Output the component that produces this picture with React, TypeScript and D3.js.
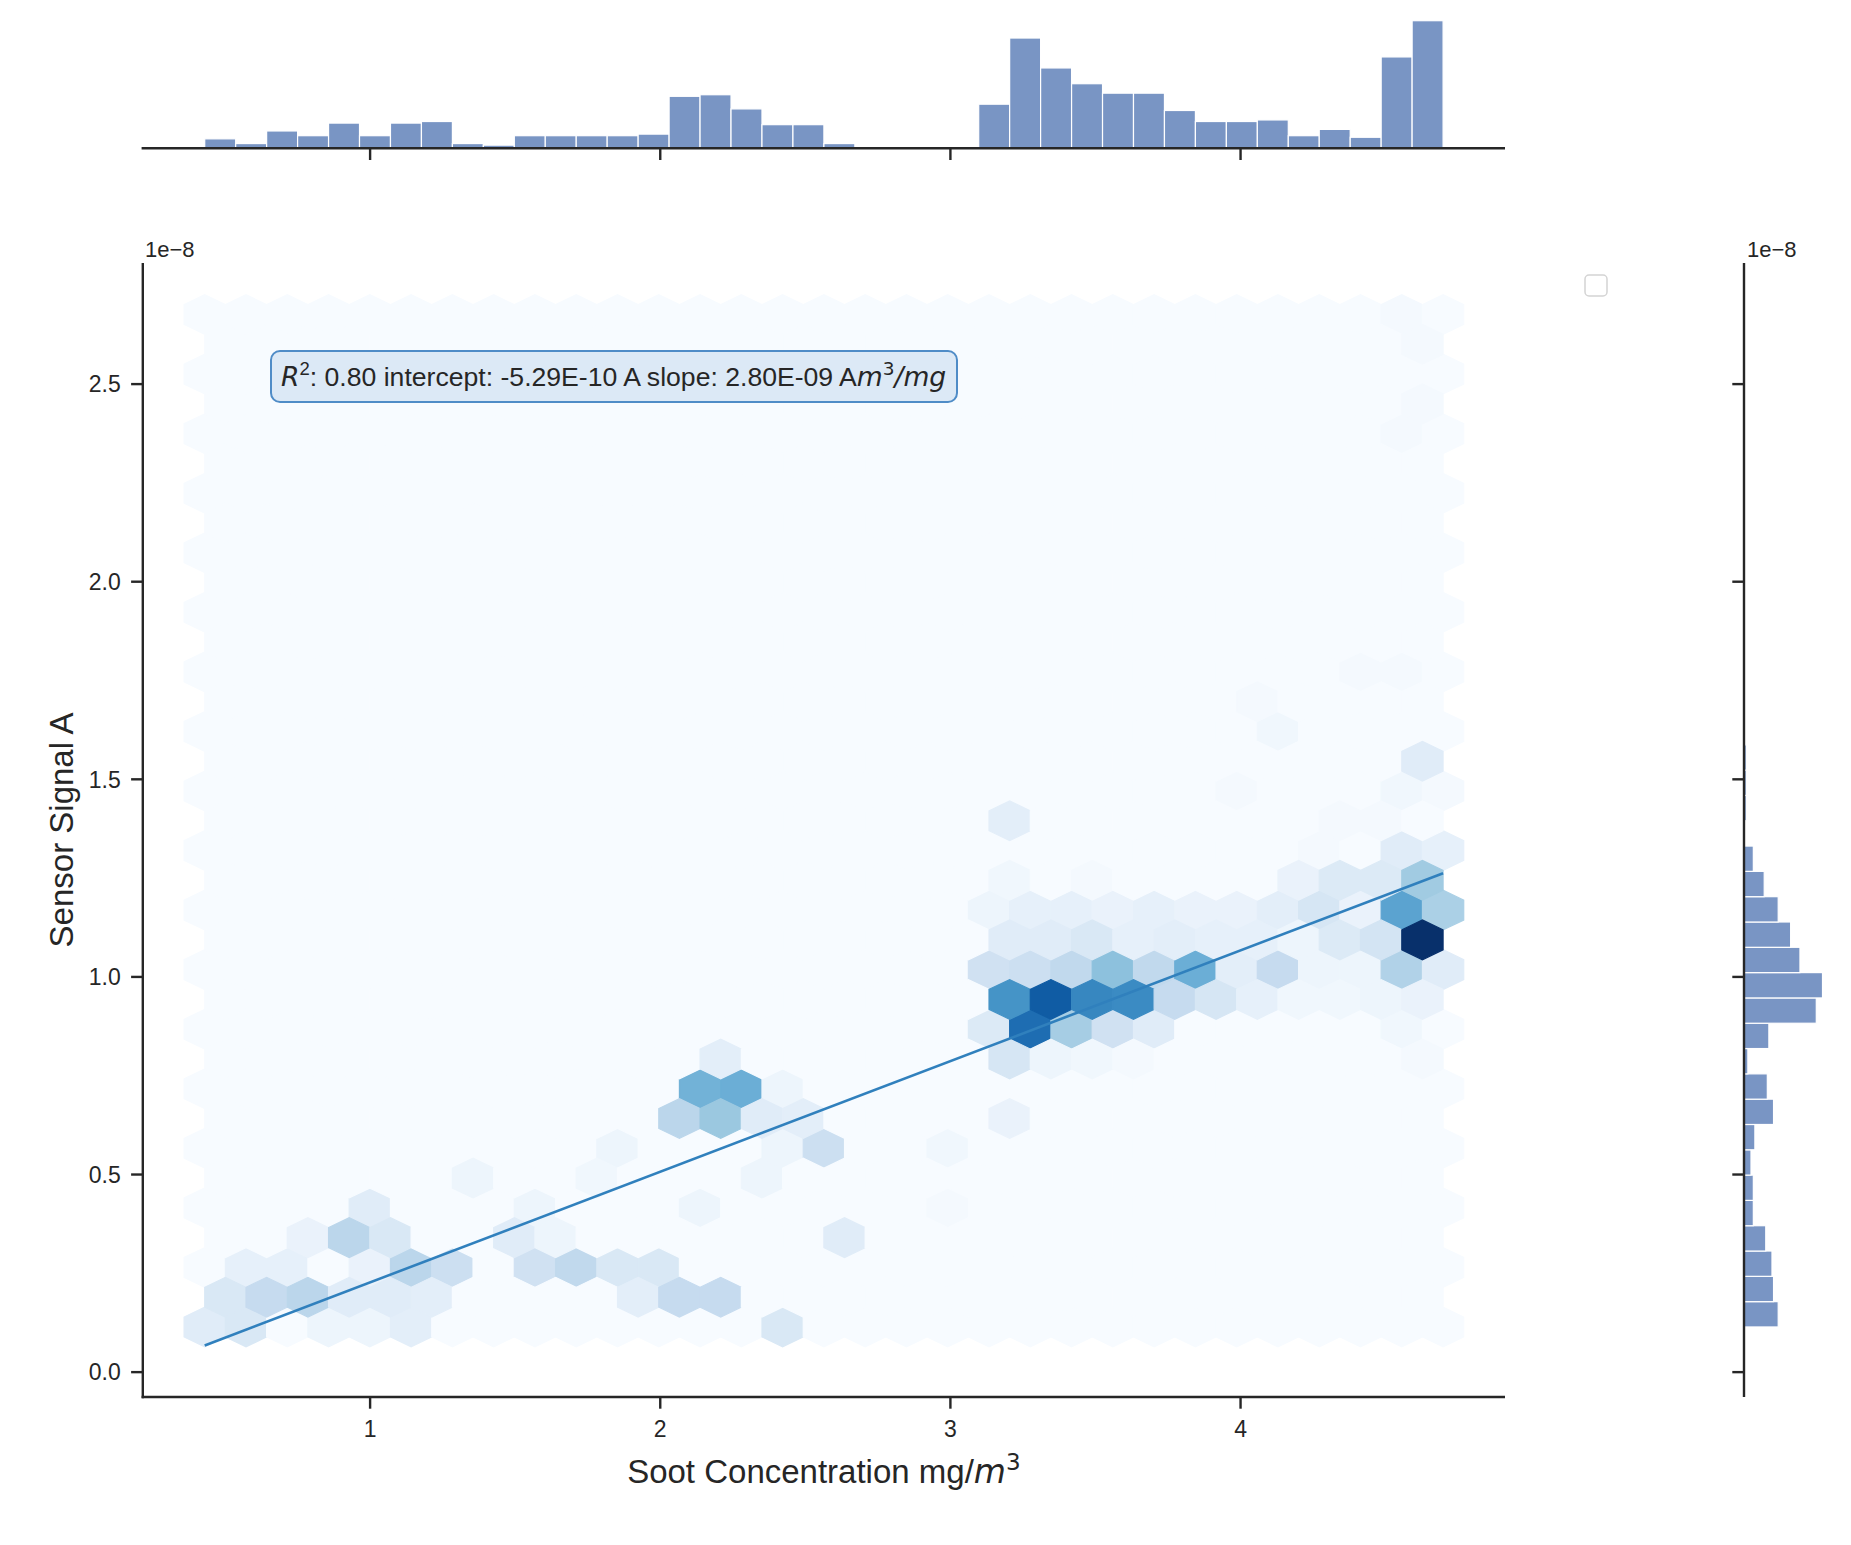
import React from 'react';
import * as d3 from 'd3';

// ---- data (values in units of the axes; signal in 1e-8 A) ----
const X_EXTENT = [0.43, 4.698]; // soot concentration data extent
const Y_EXTENT = [0.1143, 2.676]; // sensor signal data extent (1e-8 A)
const GRIDSIZE = 30;
const N_BINS = 40;
const X_TICKS = [1, 2, 3, 4];
const Y_TICKS = [0, 0.5, 1.0, 1.5, 2.0, 2.5];
const Y_TICK_LABELS = ['0.0', '0.5', '1.0', '1.5', '2.0', '2.5'];

const X_HIST = [6, 3, 11, 8, 16, 8, 16, 17, 3, 2, 8, 8, 8, 8, 9, 33, 34, 25, 15, 15, 3, 0, 0, 0, 0, 28, 70, 51, 41, 35, 35, 24, 17, 17, 18, 8, 12, 7, 58, 81];
const Y_HIST = [44, 38, 36, 28, 12, 12, 9, 14, 38, 30, 5, 32, 93, 101, 72, 60, 44, 26, 12, 0, 3, 3, 3, 1, 0, 0, 0, 0, 0, 0, 0, 0, 0, 0, 0, 0, 0, 1, 0, 1];

// [half-column, half-row, count] of hexagon cells (both hexbin lattices)
const HEX_CELLS: [number, number, number][] = [
  // right cluster
  [59, 13, 60], [58, 14, 33], [60, 14, 20], [59, 15, 22], [58, 12, 19], [57, 13, 11], [60, 12, 7],
  [59, 11, 4], [57, 15, 8], [58, 16, 7], [60, 16, 5], [55, 15, 8], [55, 13, 8], [56, 14, 4],
  [54, 14, 10], [53, 15, 4], [52, 14, 6], [52, 12, 15], [51, 13, 5], [50, 14, 4], [51, 11, 5],
  [53, 13, 3], [54, 12, 3], [56, 12, 3], [53, 11, 2], [55, 11, 2], [57, 11, 3],
  [59, 19, 7], [58, 18, 2], [60, 18, 1], [57, 17, 1], [52, 20, 2], [51, 21, 1], [58, 22, 1],
  [50, 18, 1], [55, 17, 1], [54, 16, 1], [56, 22, 1], [59, 9, 1], [58, 10, 2],
  [58, 34, 1], [59, 33, 1], [59, 31, 1], [58, 30, 1],
  // middle cluster
  [38, 10, 8], [40, 10, 46], [42, 10, 21], [44, 10, 12], [46, 10, 7],
  [39, 11, 37], [41, 11, 50], [43, 11, 40], [45, 11, 39], [47, 11, 15], [49, 11, 10],
  [38, 12, 12], [40, 12, 13], [42, 12, 16], [44, 12, 25], [46, 12, 16], [48, 12, 30], [50, 12, 6],
  [39, 13, 7], [41, 13, 7], [43, 13, 9], [45, 13, 5], [47, 13, 6], [49, 13, 5],
  [38, 14, 3], [40, 14, 5], [42, 14, 5], [44, 14, 4], [46, 14, 5], [48, 14, 4],
  [39, 9, 10], [41, 9, 3], [43, 9, 2], [45, 9, 1], [39, 7, 4], [39, 15, 2], [43, 15, 1], [39, 17, 6],
  [36, 6, 2], [36, 4, 1],
  // lower-left cluster
  [0, 0, 7], [2, 0, 9], [6, 0, 3], [8, 0, 3], [10, 0, 6], [28, 0, 9],
  [1, 1, 9], [3, 1, 15], [5, 1, 17], [7, 1, 7], [9, 1, 7], [11, 1, 6], [21, 1, 6], [23, 1, 15], [25, 1, 15],
  [2, 2, 5], [4, 2, 5], [8, 2, 4], [10, 2, 17], [12, 2, 13], [16, 2, 12], [18, 2, 16], [20, 2, 9], [22, 2, 9],
  [5, 3, 4], [7, 3, 17], [9, 3, 9], [15, 3, 7], [17, 3, 3], [31, 3, 7],
  [8, 4, 7], [16, 4, 3], [24, 4, 3],
  [13, 5, 3], [19, 5, 2], [27, 5, 3],
  [20, 6, 3], [28, 6, 3], [30, 6, 13],
  [23, 7, 17], [25, 7, 23], [27, 7, 7], [29, 7, 6],
  [24, 8, 29], [26, 8, 30], [28, 8, 3],
  [25, 9, 6],
];

const FIT_SLOPE = 0.28; // 2.80E-09 A m3/mg
const FIT_INTERCEPT = -0.0529; // -5.29E-10 A

const BLUES = ['#f7fbff', '#deebf7', '#c6dbef', '#9ecae1', '#6baed6', '#4292c6', '#2171b5', '#08519c', '#08306b'];

const INK = '#262626';
const FONT = '"Liberation Sans", Arial, Helvetica, sans-serif';
const MATH = '"DejaVu Sans", sans-serif';

export default function App() {
  const W = 1851;
  const H = 1545;

  const [xlo, xhi] = X_EXTENT;
  const [ylo, yhi] = Y_EXTENT;
  const lineY0 = FIT_INTERCEPT + FIT_SLOPE * xlo;
  const lineY1 = FIT_INTERCEPT + FIT_SLOPE * xhi;
  const dyLo = Math.min(ylo, lineY0, lineY1);
  const dyHi = Math.max(yhi, lineY0, lineY1);
  const xpad = 0.05 * (xhi - xlo);
  const ypad = 0.05 * (dyHi - dyLo);

  const L = 142.8, R = 1505, T = 263, B = 1397;
  const x = d3.scaleLinear().domain([xlo - xpad, xhi + xpad]).range([L, R]);
  const y = d3.scaleLinear().domain([dyLo - ypad, dyHi + ypad]).range([B, T]);

  // hexbin lattice
  const nx = GRIDSIZE;
  const ny = Math.floor(nx / Math.sqrt(3));
  const sx = (xhi - xlo) / nx;
  const sy = (yhi - ylo) / ny;
  const hw = (x(sx) - x(0)) / 2;
  const syPx = y(0) - y(sy);
  const cellMap = new Map<string, number>();
  HEX_CELLS.forEach(([c, r, n]) => cellMap.set(`${c},${r}`, n));
  const maxCount = d3.max(HEX_CELLS, (d) => d[2]) as number;
  const color = d3
    .scaleLinear<string>()
    .domain(BLUES.map((_, i) => (i / (BLUES.length - 1)) * maxCount))
    .range(BLUES)
    .interpolate(d3.interpolateRgb)
    .clamp(true);

  const hexes: { cx: number; cy: number; n: number; key: string }[] = [];
  for (let i = 0; i <= nx; i++) {
    for (let j = 0; j <= ny; j++) {
      const c = 2 * i, r = 2 * j;
      hexes.push({ cx: x(xlo + i * sx), cy: y(ylo + j * sy), n: cellMap.get(`${c},${r}`) || 0, key: `a${c}-${r}` });
    }
  }
  for (let i = 0; i < nx; i++) {
    for (let j = 0; j < ny; j++) {
      const c = 2 * i + 1, r = 2 * j + 1;
      hexes.push({ cx: x(xlo + (i + 0.5) * sx), cy: y(ylo + (j + 0.5) * sy), n: cellMap.get(`${c},${r}`) || 0, key: `b${c}-${r}` });
    }
  }
  const hexPath = (cx: number, cy: number) => {
    const a = syPx / 6, b = syPx / 3;
    return `M${cx + hw},${cy + a}L${cx + hw},${cy - a}L${cx},${cy - b}L${cx - hw},${cy - a}L${cx - hw},${cy + a}L${cx},${cy + b}Z`;
  };

  // marginal histograms
  const bwx = (xhi - xlo) / N_BINS;
  const bwy = (yhi - ylo) / N_BINS;
  const TOP_BASE = 148.3;
  const yTop = d3.scaleLinear().domain([0, d3.max(X_HIST) as number]).range([TOP_BASE, 20.7]);
  const RX = 1744;
  const xRight = d3.scaleLinear().domain([0, d3.max(Y_HIST) as number]).range([RX, 1822.5]);
  const barFill = '#4c72b0';

  const TICK = 11.7;
  const SW = 2.4;
  const tickFont = 23;

  const line = d3.line<number>().x((d) => x(d)).y((d) => y(FIT_INTERCEPT + FIT_SLOPE * d));

  return (
    <svg width={W} height={H} style={{ position: 'absolute', left: 0, top: 0, background: '#fff' }} xmlns="http://www.w3.org/2000/svg">
      <rect x={0} y={0} width={W} height={H} fill="#fff" />

      {/* hexbin */}
      <g>
        {hexes.map((h) => (
          <path key={h.key} d={hexPath(h.cx, h.cy)} fill={color(h.n)} stroke={color(h.n)} strokeWidth={1.2} />
        ))}
      </g>

      {/* regression line */}
      <path d={line([xlo, xhi]) as string} fill="none" stroke="#3080bd" strokeWidth={2.6} />

      {/* annotation */}
      <g>
        <rect x={271} y={351} width={686} height={51} rx={9} ry={9} fill="#dce9f6" stroke="#4f8cc7" strokeWidth={2} />
        <text x={281} y={386} fontFamily={FONT} fontSize={26.6} fill={INK}>
          <tspan fontFamily={MATH} fontStyle="italic">R</tspan>
          <tspan fontSize={18.5} dy={-11}>2</tspan>
          <tspan dy={11}>: 0.80 intercept: -5.29E-10 A slope: 2.80E-09 A</tspan>
          <tspan fontFamily={MATH} fontStyle="italic">m</tspan>
          <tspan fontFamily={MATH} fontSize={18.5} dy={-11}>3</tspan>
          <tspan fontFamily={MATH} fontStyle="italic" dy={11}>/mg</tspan>
        </text>
      </g>

      {/* empty legend frame */}
      <rect x={1585} y={275} width={22} height={21} rx={4} fill="#fff" stroke="#d4d4d4" strokeWidth={1.5} />

      {/* main axes */}
      <g stroke={INK} strokeWidth={SW}>
        <line x1={L} y1={T} x2={L} y2={B + SW / 2} />
        <line x1={L - SW / 2} y1={B} x2={R} y2={B} />
        {X_TICKS.map((t) => (
          <line key={`xt${t}`} x1={x(t)} y1={B} x2={x(t)} y2={B + TICK} />
        ))}
        {Y_TICKS.map((t) => (
          <line key={`yt${t}`} x1={L} y1={y(t)} x2={L - TICK} y2={y(t)} />
        ))}
      </g>
      <g fontFamily={FONT} fontSize={tickFont} fill={INK}>
        {X_TICKS.map((t) => (
          <text key={`xl${t}`} x={x(t)} y={1436.7} textAnchor="middle">{t}</text>
        ))}
        {Y_TICKS.map((t, i) => (
          <text key={`yl${t}`} x={120.7} y={y(t) + 8.3} textAnchor="end">{Y_TICK_LABELS[i]}</text>
        ))}
        <text x={145} y={257} fontSize={22}>1e−8</text>
        <text x={1747} y={257} fontSize={22}>1e−8</text>
      </g>
      <text x={(L + R) / 2} y={1483} textAnchor="middle" fontFamily={FONT} fontSize={33} fill={INK}>
        Soot Concentration mg/<tspan fontFamily={MATH} fontStyle="italic">m</tspan>
        <tspan fontFamily={MATH} fontSize={23} dy={-13}>3</tspan>
      </text>
      <text transform={`translate(73,${(T + B) / 2}) rotate(-90)`} textAnchor="middle" fontFamily={FONT} fontSize={33} fill={INK}>
        Sensor Signal A
      </text>

      {/* top marginal histogram */}
      <g>
        {X_HIST.map((n, k) =>
          n > 0 ? (
            <rect key={`xh${k}`} x={x(xlo + k * bwx)} y={yTop(n)} width={x(xlo + (k + 1) * bwx) - x(xlo + k * bwx)} height={TOP_BASE - yTop(n)}
              fill={barFill} fillOpacity={0.75} stroke="#fff" strokeWidth={1.2} />
          ) : null
        )}
      </g>
      <g stroke={INK} strokeWidth={SW}>
        <line x1={L - SW / 2} y1={TOP_BASE} x2={R} y2={TOP_BASE} />
        {X_TICKS.map((t) => (
          <line key={`txt${t}`} x1={x(t)} y1={TOP_BASE} x2={x(t)} y2={TOP_BASE + TICK} />
        ))}
      </g>

      {/* right marginal histogram */}
      <g>
        {Y_HIST.map((n, k) =>
          n > 0 ? (
            <rect key={`yh${k}`} x={RX} y={y(ylo + (k + 1) * bwy)} width={xRight(n) - RX} height={y(ylo + k * bwy) - y(ylo + (k + 1) * bwy)}
              fill={barFill} fillOpacity={0.75} stroke="#fff" strokeWidth={1.2} />
          ) : null
        )}
      </g>
      <g stroke={INK} strokeWidth={SW}>
        <line x1={RX} y1={T} x2={RX} y2={B} />
        {Y_TICKS.map((t) => (
          <line key={`ryt${t}`} x1={RX} y1={y(t)} x2={RX - TICK} y2={y(t)} />
        ))}
      </g>
    </svg>
  );
}
